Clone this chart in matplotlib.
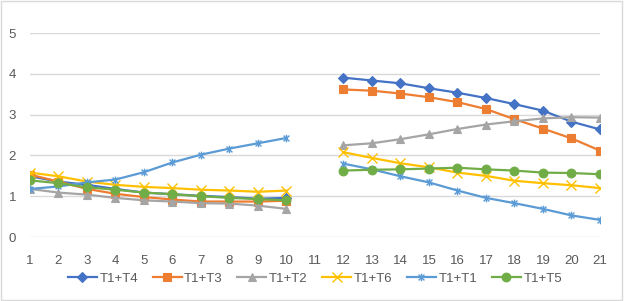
import numpy as np
import matplotlib
matplotlib.use("Agg")
import matplotlib.pyplot as plt
from matplotlib.path import Path
from matplotlib.patches import Rectangle

plt.rcParams['font.family'] = ['Liberation Sans', 'DejaVu Sans']

nan = np.nan
days = list(range(1, 22))

# values, day 11 is empty in all series
t1_t4 = [1.49, 1.36, 1.28, 1.18, 1.09, 1.05, 1.01, 0.98, 0.94, 0.96, nan,
         3.91, 3.84, 3.77, 3.65, 3.54, 3.41, 3.26, 3.10, 2.83, 2.64]
t1_t3 = [1.53, 1.36, 1.18, 1.06, 0.98, 0.92, 0.87, 0.87, 0.87, 0.89, nan,
         3.62, 3.59, 3.52, 3.43, 3.31, 3.14, 2.89, 2.66, 2.42, 2.12]
t1_t2 = [1.18, 1.09, 1.04, 0.96, 0.90, 0.87, 0.83, 0.82, 0.77, 0.69, nan,
         2.25, 2.30, 2.40, 2.52, 2.65, 2.76, 2.84, 2.91, 2.94, 2.93]
t1_t6 = [1.58, 1.49, 1.36, 1.28, 1.23, 1.20, 1.16, 1.14, 1.11, 1.14, nan,
         2.08, 1.94, 1.81, 1.71, 1.58, 1.50, 1.38, 1.32, 1.27, 1.20]
t1_t1 = [1.18, 1.24, 1.34, 1.41, 1.59, 1.83, 2.02, 2.17, 2.30, 2.43, nan,
         1.80, 1.66, 1.49, 1.34, 1.14, 0.96, 0.83, 0.69, 0.53, 0.42]
t1_t5 = [1.39, 1.32, 1.22, 1.16, 1.09, 1.05, 1.00, 0.96, 0.93, 0.90, nan,
         1.63, 1.65, 1.66, 1.68, 1.70, 1.66, 1.63, 1.58, 1.57, 1.54]

names = ["T1+T4", "T1+T3", "T1+T2", "T1+T6", "T1+T1", "T1+T5"]
series = [t1_t4, t1_t3, t1_t2, t1_t6, t1_t1, t1_t5]
colors = ["#4472C4", "#ED7D31", "#A5A5A5", "#FFC000", "#5B9BD5", "#70AD47"]

# excel style asterisk: an x with a vertical bar
star = Path([(-1, -1), (1, 1), (-1, 1), (1, -1), (0, -1.3), (0, 1.3)],
            [Path.MOVETO, Path.LINETO, Path.MOVETO, Path.LINETO, Path.MOVETO, Path.LINETO])
markers = ["D", "s", "^", "x", star, "o"]
msizes = [4.8, 5.5, 5.8, 6.5, 5.5, 6.3]

fig = plt.figure(figsize=(6.24, 3.01), dpi=100)
fig.patches.append(Rectangle((0.002, 0.003), 0.995, 0.993, transform=fig.transFigure,
                             fill=False, edgecolor="#D9D9D9", linewidth=1))
ax = fig.add_axes([0.048, 0.2126, 0.9135, 0.677])

for name, vals, c, m, ms in zip(names, series, colors, markers, msizes):
    ax.plot(days, vals, color=c, linewidth=1.6, marker=m, markersize=ms,
            markerfacecolor=c if m not in ("x", star) else "none",
            markeredgecolor=c, markeredgewidth=1.0 if m in ("x", star) else 0.8,
            label=name)

ax.set_xlim(1, 21)
ax.set_ylim(0, 5)
ax.set_xticks(days)
ax.set_yticks(range(0, 6))
ax.grid(axis="y", color="#D9D9D9", linewidth=1)
ax.set_axisbelow(True)
for s in ax.spines.values():
    s.set_visible(False)
ax.tick_params(length=0, labelsize=9.5, labelcolor="#595959")
ax.tick_params(axis="x", pad=13)
ax.tick_params(axis="y", pad=10)

ax.legend(loc="center", bbox_to_anchor=(0.5, -0.206), ncol=6, frameon=False,
          fontsize=9.5, handlelength=2.2, columnspacing=1.1, handletextpad=0.2,
          labelcolor="#595959")

fig.savefig("out.png", dpi=100)
